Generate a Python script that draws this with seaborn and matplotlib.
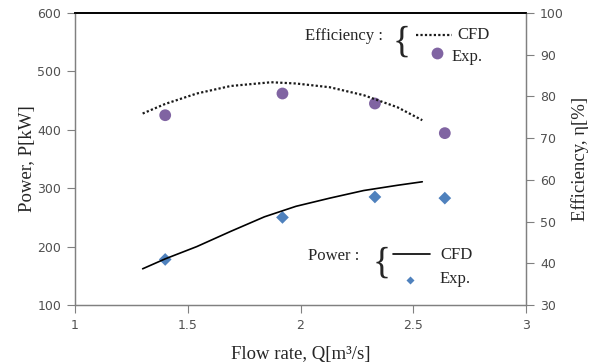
import matplotlib
matplotlib.use("Agg")
import matplotlib.pyplot as plt
import seaborn as sns
import pandas as pd

# Data
power_cfd_q = [1.30, 1.40, 1.54, 1.69, 1.84, 1.98, 2.13, 2.28, 2.43, 2.54]
power_cfd_p = [162, 179, 200, 226, 251, 269, 283, 296, 305, 311]
power_exp_q = [1.40, 1.92, 2.33, 2.64]
power_exp_p = [178, 250, 285, 283]

eff_cfd_q = [1.30, 1.40, 1.54, 1.69, 1.87, 1.98, 2.13, 2.28, 2.43, 2.54]
eff_cfd_e = [75.9, 78.2, 80.7, 82.5, 83.4, 83.1, 82.2, 80.3, 77.4, 74.3]
eff_exp_q = [1.40, 1.92, 2.33, 2.64]
eff_exp_e = [75.5, 80.7, 78.3, 71.2]

x_ticks = [1, 1.5, 2, 2.5, 3]
x_ticklabels = ["1", "1.5", "2", "2.5", "3"]
p_ticks = [100, 200, 300, 400, 500, 600]
e_ticks = [30, 40, 50, 60, 70, 80, 90, 100]

sns.set_style("white")
plt.rcParams['font.family'] = ['DejaVu Sans']

fig = plt.figure(figsize=(5.97, 3.64), dpi=100)
ax = fig.add_axes([75/597, 1-305/364, (526-75)/597, (305-13)/364])
ax2 = ax.twinx()

purple = "#8064A2"
blue = "#4F81BD"

pc = pd.DataFrame({"q": power_cfd_q, "p": power_cfd_p})
pe = pd.DataFrame({"q": power_exp_q, "p": power_exp_p})
ec = pd.DataFrame({"q": eff_cfd_q, "e": eff_cfd_e})
ee = pd.DataFrame({"q": eff_exp_q, "e": eff_exp_e})

sns.lineplot(data=pc, x="q", y="p", ax=ax, color="black", lw=1.2, estimator=None, sort=True)
sns.scatterplot(data=pe, x="q", y="p", ax=ax, color=blue, marker="D", s=42, edgecolor="none")
sns.lineplot(data=ec, x="q", y="e", ax=ax2, color="#1a1a1a", lw=1.6, ls=(0, (1, 1)), estimator=None, sort=True)
sns.scatterplot(data=ee, x="q", y="e", ax=ax2, color=purple, marker="o", s=72, edgecolor="none")

ax.set_xlim(1, 3)
ax.set_ylim(100, 600)
ax2.set_ylim(30, 100)
ax.set_xticks(x_ticks)
ax.set_xticklabels(x_ticklabels)
ax.set_yticks(p_ticks)
ax2.set_yticks(e_ticks)

serif = "Liberation Serif"
tickfont = "DejaVu Sans"
for a in (ax, ax2):
    for lab in a.get_xticklabels() + a.get_yticklabels():
        lab.set_fontfamily(tickfont)
        lab.set_fontsize(9)
        lab.set_color("#505050")
    a.tick_params(axis="both", direction="out", length=6, width=0.8, color="#808080", pad=4)
    for s in a.spines.values():
        s.set_color("#808080")
        s.set_linewidth(0.9)
    a.spines["top"].set_color("black")
    a.spines["top"].set_linewidth(1.2)
ax.tick_params(left=True, bottom=True)
ax2.tick_params(right=True)

ax.set_xlabel("Flow rate, Q[m\u00b3/s]", fontfamily=serif, fontsize=13.5, labelpad=10)
ax.set_ylabel("Power, P[kW]", fontfamily=serif, fontsize=13.5, labelpad=1)
ax2.set_ylabel("Efficiency, \u03b7[%]", fontfamily=serif, fontsize=13.5, labelpad=5)

# Custom legend annotations (figure pixel coordinates)
def fx(px):
    return px / 597
def fy(py):
    return 1 - py / 364

lf = 12
fig.text(fx(305), fy(36), "Efficiency :", fontfamily=serif, fontsize=lf, va="center", ha="left")
fig.text(fx(402), fy(42), "{", fontfamily=serif, fontsize=27, va="center", ha="center")
fig.add_artist(plt.Line2D([fx(416), fx(452)], [fy(35), fy(35)], color="#1a1a1a", lw=1.6, ls=(0, (1, 1))))
fig.text(fx(457), fy(35), "CFD", fontfamily=serif, fontsize=lf, va="center", ha="left")
fig.add_artist(plt.Line2D([fx(437)], [fy(53)], marker="o", ms=8.5, color=purple, mec="none", lw=0))
fig.text(fx(452), fy(57), "Exp.", fontfamily=serif, fontsize=lf, va="center", ha="left")

fig.text(fx(308), fy(256), "Power :", fontfamily=serif, fontsize=lf, va="center", ha="left")
fig.text(fx(382), fy(263), "{", fontfamily=serif, fontsize=27, va="center", ha="center")
fig.add_artist(plt.Line2D([fx(393), fx(430)], [fy(254), fy(254)], color="black", lw=1.2))
fig.text(fx(440), fy(255), "CFD", fontfamily=serif, fontsize=lf, va="center", ha="left")
fig.add_artist(plt.Line2D([fx(410)], [fy(280)], marker="D", ms=4.5, color=blue, mec="none", lw=0))
fig.text(fx(440), fy(279), "Exp.", fontfamily=serif, fontsize=lf, va="center", ha="left")

fig.savefig("out.png", dpi=100)
